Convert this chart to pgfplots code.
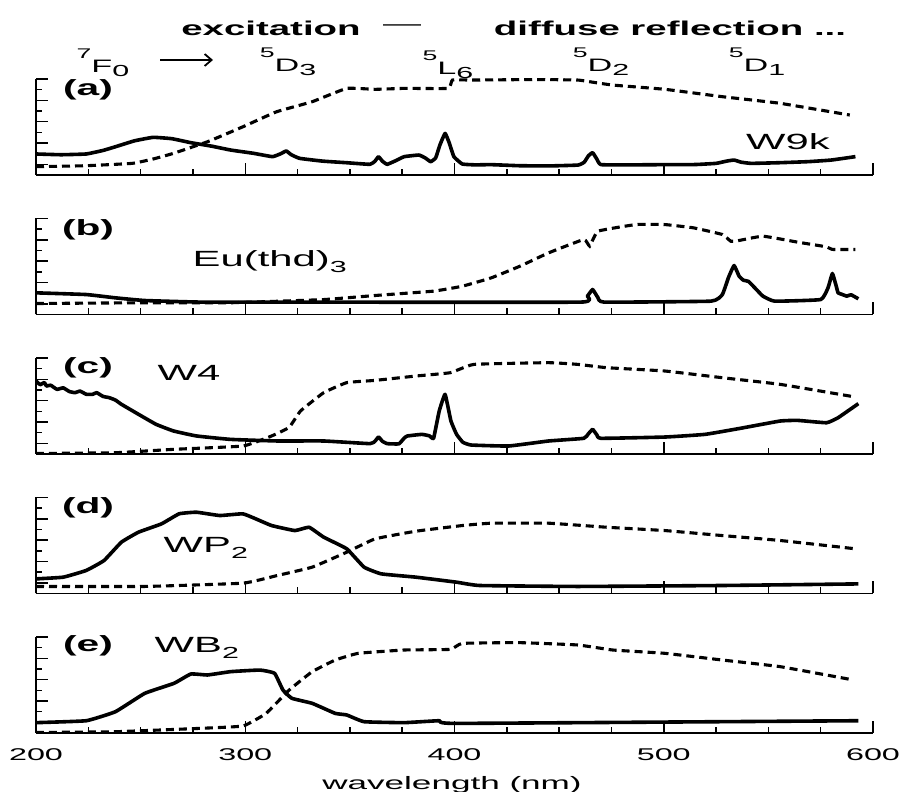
\documentclass[border=0pt]{standalone}
\usepackage{pgfplots}
\pgfplotsset{compat=1.18}
\usetikzlibrary{arrows.meta}
\usepackage{fontspec}
\setmainfont{Liberation Sans}

% sized sans lettering used throughout the figure
\newcommand{\fs}[1]{\fontsize{#1}{#1}\selectfont}

\pgfplotsset{
  panel/.style={
    scale only axis, width=837pt, height=96pt,
    xmin=200, xmax=600, ymin=0, ymax=9,
    axis lines*=left,
    axis line style={line width=1.8pt},
    xtick={200,300,400,500,600},
    minor xtick={225,250,275,325,350,375,425,450,475,525,550,575},
    ytick={1,3,5,7,9}, minor ytick={2,4,6,8},
    yticklabels={}, xticklabels={},
    tick align=inside,
    major tick length=12pt, minor tick length=6pt,
    every tick/.style={line width=1.5pt, black},
    anchor=south west,
  },
  exc/.style={black, line width=3.6pt, line join=round, mark=none, smooth, tension=0.2},
  refl/.style={black, line width=3.1pt, dash pattern=on 8pt off 5pt, mark=none, smooth, tension=0.2},
}

\begin{document}
\begin{tikzpicture}[x=1pt,y=1pt]
\useasboundingbox (0,0) rectangle (902,792);

% ---------------- (a) W9k ----------------
\begin{axis}[panel, at={(36pt,617pt)}]
\addplot[exc] table {
200 1.97
212 1.90
224 1.97
232 2.30
238 2.65
247 3.20
256 3.53
265 3.40
274 3.03
284 2.70
293 2.34
304 2.03
313 1.72
317 2.00
319.6 2.25
322 1.90
326 1.56
337 1.30
348.5 1.15
359.6 1.00
362 1.30
363.7 1.72
365.5 1.30
367.8 1.00
372 1.35
376 1.72
383 1.87
386 1.60
388.6 1.25
391 1.60
393 2.80
395.5 3.90
397.5 3.00
399.7 1.72
403.7 1.03
410 0.95
417.5 0.97
431 0.87
445 0.85
459 0.93
462 1.20
464 1.80
466 2.09
468 1.50
470 0.97
485 0.95
500.5 0.97
515 0.98
525 1.09
530 1.30
533.6 1.40
537 1.20
541.8 1.09
555 1.15
569 1.25
580 1.40
591.6 1.72
};
\addplot[refl] table {
200 0.78
224 0.87
246 1.09
256 1.50
265.7 2.03
282 3.12
299 4.53
315 5.93
332 6.87
348.5 8.12
362 8.03
376 8.12
397 8.12
399 8.90
409 8.90
440 8.95
459 8.90
466 8.70
475.6 8.43
500.6 8.03
528 7.34
555.6 6.72
588.9 5.62
};
\end{axis}

% ---------------- (b) Eu(thd)3 ----------------
\begin{axis}[panel, at={(36pt,477.5pt)}]
\addplot[exc] table {
200 2.03
224 1.87
238 1.56
252 1.31
279 1.16
321 1.16
460 1.16
463.5 1.72
466 2.34
468.5 1.60
471.5 1.16
522.6 1.25
528 1.87
531 3.50
533.6 4.59
536 3.60
538 3.22
540.5 3.10
544 2.40
547.4 1.72
553 1.25
575 1.40
578.5 2.50
580.6 3.84
582.5 2.60
583.3 2.03
585 1.90
587.5 1.72
589.5 1.85
593 1.47
};
\addplot[refl] table {
200 1.03
252 1.10
293 1.10
337.5 1.40
362 1.78
390 2.19
403.7 2.65
417.5 3.43
431.3 4.53
445 5.78
461.8 7.03
464.6 6.40
468.6 7.81
486.7 8.43
500.5 8.43
514.3 8.12
528 7.50
532 6.87
535 6.90
547.4 7.34
564 6.78
577.8 6.34
580.5 6.10
591.6 6.09
};
\end{axis}

% ---------------- (c) W4 ----------------
\begin{axis}[panel, at={(36pt,338pt)}]
\addplot[exc] table {
200 6.84
202 6.50
204 6.70
205 6.37
207 6.45
210 6.06
213 6.20
216 5.85
218.7 5.75
221 5.90
224 5.60
227 5.59
229 5.75
232 5.40
235 5.28
238 5.05
240.8 4.66
249 3.72
257.4 2.78
265.7 2.16
276.7 1.69
293 1.37
315.4 1.22
337.5 1.22
359.6 0.97
362 1.20
363.7 1.59
365.5 1.20
367.8 0.97
373.4 0.95
376 1.50
377.5 1.69
384.4 1.84
388 1.70
390 1.47
392.7 4.03
395.5 5.59
398.3 3.09
401 1.84
404 1.10
408 0.84
425.9 0.75
445 1.22
461.8 1.47
464 1.90
466 2.31
468 1.80
470 1.47
500.5 1.59
519.7 1.84
536.4 2.40
555.6 3.09
564 3.15
577.8 2.93
583.3 3.40
593 4.72
};
\addplot[refl] table {
200 0.05
238 0.12
266 0.44
299 0.75
312.6 1.69
321 2.50
326.4 4.03
337.5 5.75
348.5 6.69
362 6.90
381.6 7.31
398 7.62
409.3 8.40
445 8.56
459 8.40
472.8 8.09
500.5 7.78
528 7.15
555.6 6.53
591.6 5.34
};
\end{axis}

% ---------------- (d) WP2 ----------------
\begin{axis}[panel, at={(36pt,198.5pt)}]
\addplot[exc] table {
200 1.37
213 1.53
224 2.16
232.5 3.09
240.8 4.81
249 5.75
260 6.53
268.4 7.47
276.7 7.62
287.8 7.31
298.8 7.47
305 7.00
312.6 6.37
323.7 5.90
330.5 6.21
337.5 5.28
348.5 4.19
356.8 2.47
365 1.84
381.6 1.53
401 1.06
412 0.75
459 0.66
528 0.75
593 0.90
};
\addplot[refl] table {
200 0.66
252 0.66
299 0.97
315.4 1.69
332 2.47
348.5 3.87
362 5.12
381.6 5.84
403.7 6.37
417.5 6.59
445 6.59
472.8 6.21
500.5 5.90
528 5.43
555.6 4.97
591.6 4.19
};
\end{axis}

% ---------------- (e) WB2 ----------------
\begin{axis}[panel, at={(36pt,59pt)},
  xticklabels={200,300,400,500,600},
  xticklabel style={font=\fs{17}, xscale=1.9},
  xticklabel shift=12pt]
\addplot[exc] table {
200 0.97
224 1.15
238 2.00
252 3.72
266 4.66
274 5.53
282 5.44
293 5.75
307 5.90
314 5.60
318 4.03
322.3 3.25
332 2.78
343 1.84
348.5 1.69
356.8 1.06
376 0.97
392.7 1.15
401 0.90
593 1.15
};
\addplot[refl] table {
200 0.05
238 0.12
279 0.44
299 0.66
310 1.84
321 4.03
332 5.75
343 6.84
354 7.47
376 7.78
398 7.84
403.7 8.40
431 8.47
459 8.25
475.6 7.78
500.5 7.47
528 6.84
555.6 6.22
589 5.03
};
\end{axis}

% axis title
\node[font=\fs{18}, xscale=1.95] at (452,7) {wavelength (nm)};

% legend line
\node[font=\bfseries\fs{20}, xscale=1.92] at (271,764) {excitation};
\node[font=\fs{20}, xscale=1.9] at (402,764) {—};
\node[font=\bfseries\fs{20}, xscale=1.92] at (670,764) {diffuse reflection ...};

% transitions
\node[font=\fs{18}, xscale=1.9, anchor=base] at (103,719)
  {\raisebox{14pt}{\fs{14}7}F\raisebox{-4pt}{\fs{16}0}};
\draw[line width=1.8pt, -{Straight Barb[length=7pt,width=12pt,line width=1.8pt]}]
  (160,732) -- (213,732);
\node[font=\fs{18}, xscale=1.9, anchor=base] at (288,720)
  {\raisebox{14pt}{\fs{14}5}D\raisebox{-4pt}{\fs{16}3}};
\node[font=\fs{18}, xscale=1.9, anchor=base] at (448,717)
  {\raisebox{14pt}{\fs{14}5}L\raisebox{-4pt}{\fs{16}6}};
\node[font=\fs{18}, xscale=1.9, anchor=base] at (601,720)
  {\raisebox{14pt}{\fs{14}5}D\raisebox{-4pt}{\fs{16}2}};
\node[font=\fs{18}, xscale=1.9, anchor=base] at (757,720)
  {\raisebox{14pt}{\fs{14}5}D\raisebox{-4pt}{\fs{16}1}};

% panel letters
\node[font=\bfseries\fs{22}, xscale=1.85] at (88,702) {(a)};
\node[font=\bfseries\fs{22}, xscale=1.85] at (88,562) {(b)};
\node[font=\bfseries\fs{22}, xscale=1.85] at (88,424) {(c)};
\node[font=\bfseries\fs{22}, xscale=1.85] at (88,284) {(d)};
\node[font=\bfseries\fs{22}, xscale=1.85] at (88,146) {(e)};

% sample names
\node[font=\fs{22}, xscale=1.9] at (788,650) {W9k};
\node[font=\fs{22}, xscale=1.9, anchor=west] at (186,530)
  {Eu(thd)\raisebox{-6pt}{\fs{16}3}};
\node[font=\fs{22}, xscale=1.9, anchor=west] at (151,419) {W4};
\node[font=\fs{22}, xscale=1.9, anchor=west] at (157,244)
  {WP\raisebox{-6pt}{\fs{16}2}};
\node[font=\fs{22}, xscale=1.9, anchor=west] at (148,144)
  {WB\raisebox{-6pt}{\fs{16}2}};
\end{tikzpicture}
\end{document}
